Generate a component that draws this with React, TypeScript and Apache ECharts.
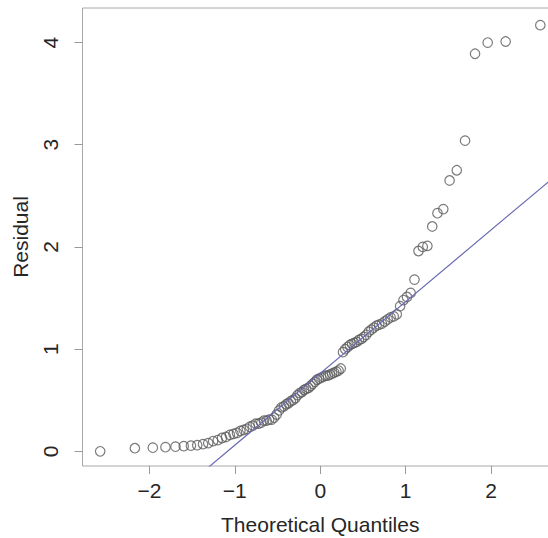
import React, { useEffect, useRef } from "react";
import * as echarts from "echarts";

// Theoretical quantiles (x)
const quantiles: number[] = [
  -2.576, -2.17, -1.96, -1.812, -1.695, -1.598, -1.514, -1.44, -1.372, -1.311,
  -1.254, -1.2, -1.15, -1.103, -1.058, -1.015, -0.974, -0.935, -0.896, -0.86,
  -0.824, -0.789, -0.755, -0.722, -0.69, -0.659, -0.628, -0.598, -0.568, -0.539,
  -0.51, -0.482, -0.454, -0.426, -0.399, -0.372, -0.345, -0.319, -0.292, -0.266,
  -0.24, -0.215, -0.189, -0.164, -0.138, -0.113, -0.088, -0.063, -0.038, -0.013,
  0.013, 0.038, 0.063, 0.088, 0.113, 0.138, 0.164, 0.189, 0.215, 0.24,
  0.266, 0.292, 0.319, 0.345, 0.372, 0.399, 0.426, 0.454, 0.482, 0.51,
  0.539, 0.568, 0.598, 0.628, 0.659, 0.69, 0.722, 0.755, 0.789, 0.824,
  0.86, 0.896, 0.935, 0.974, 1.015, 1.058, 1.103, 1.15, 1.2, 1.254,
  1.311, 1.372, 1.44, 1.514, 1.598, 1.695, 1.812, 1.96, 2.17, 2.576,
];

// Sorted residuals (y)
const residuals: number[] = [
  0.0, 0.03, 0.035, 0.04, 0.045, 0.05, 0.055, 0.06, 0.07, 0.08,
  0.1, 0.11, 0.13, 0.14, 0.16, 0.17, 0.18, 0.2, 0.21, 0.22,
  0.24, 0.25, 0.27, 0.27, 0.28, 0.3, 0.3, 0.31, 0.31, 0.33,
  0.36, 0.4, 0.43, 0.44, 0.46, 0.47, 0.49, 0.5, 0.52, 0.55,
  0.57, 0.58, 0.6, 0.61, 0.62, 0.64, 0.66, 0.68, 0.7, 0.71,
  0.72, 0.73, 0.74, 0.74, 0.75, 0.76, 0.77, 0.78, 0.79, 0.81,
  0.97, 1.0, 1.02, 1.04, 1.05, 1.06, 1.07, 1.09, 1.1, 1.12,
  1.14, 1.17, 1.19, 1.21, 1.23, 1.24, 1.25, 1.27, 1.29, 1.31,
  1.32, 1.34, 1.42, 1.48, 1.51, 1.55, 1.68, 1.96, 2.0, 2.01,
  2.2, 2.33, 2.37, 2.65, 2.75, 3.04, 3.89, 4.0, 4.01, 4.17,
];

// Reference line (qqline) endpoints
const refLineX: number[] = [-3, 3];
const refLineY: number[] = [-1.344, 2.868];

const xTicks: number[] = [-2, -1, 0, 1, 2];
const yTicks: number[] = [0, 1, 2, 3, 4];

const FONT = "'Liberation Sans', Arial, Helvetica, sans-serif";

export default function App() {
  const ref = useRef<HTMLDivElement>(null);

  useEffect(() => {
    if (!ref.current) return;
    const chart = echarts.init(ref.current, undefined, { renderer: "svg" });
    const fmt = (v: number) => (v < 0 ? "\u2212" + Math.abs(v) : String(v));
    chart.setOption({
      animation: false,
      backgroundColor: "#ffffff",
      textStyle: { fontFamily: FONT },
      grid: {
        left: 82.5,
        top: 8,
        right: -10,
        bottom: 72,
        outerBoundsMode: "none",
        containLabel: false,
        show: true,
        borderColor: "#a8a8a8",
        borderWidth: 1,
        backgroundColor: "transparent",
      },
      xAxis: {
        type: "value",
        min: -2.783,
        max: 2.783,
        name: "Theoretical Quantiles",
        nameLocation: "middle",
        nameGap: 48,
        nameTextStyle: { fontSize: 21, color: "#262626", fontFamily: FONT },
        splitLine: { show: false },
        axisLine: { show: false, onZero: false },
        axisTick: {
          show: true,
          customValues: xTicks,
          length: 8,
          inside: false,
          lineStyle: { color: "#999999" },
        },
        axisLabel: {
          customValues: xTicks,
          formatter: fmt,
          fontSize: 21,
          color: "#262626",
          margin: 14,
          fontFamily: FONT,
        },
      },
      yAxis: {
        type: "value",
        min: -0.144,
        max: 4.338,
        name: "Residual",
        nameLocation: "middle",
        nameRotate: 90,
        nameGap: 52,
        nameTextStyle: { fontSize: 21, color: "#262626", fontFamily: FONT },
        splitLine: { show: false },
        axisLine: { show: false, onZero: false },
        axisTick: {
          show: true,
          customValues: yTicks,
          length: 8,
          inside: false,
          lineStyle: { color: "#999999" },
        },
        axisLabel: {
          customValues: yTicks,
          rotate: 90,
          fontSize: 21,
          color: "#262626",
          margin: 22,
          fontFamily: FONT,
        },
      },
      series: [
        {
          type: "scatter",
          data: quantiles.map((q, i) => [q, residuals[i]]),
          symbol: "circle",
          symbolSize: 9.5,
          itemStyle: {
            color: "rgba(255,255,255,0)",
            borderColor: "#5a5a5a",
            borderWidth: 1.2,
          },
          silent: true,
        },
        {
          type: "line",
          data: refLineX.map((x, i) => [x, refLineY[i]]),
          symbol: "none",
          clip: true,
          lineStyle: { color: "#6a6ab4", width: 1.2 },
          silent: true,
        },
      ],
    });
    return () => chart.dispose();
  }, []);

  return (
    <div
      ref={ref}
      style={{ position: "absolute", left: 0, top: 0, width: 548, height: 538 }}
    />
  );
}
